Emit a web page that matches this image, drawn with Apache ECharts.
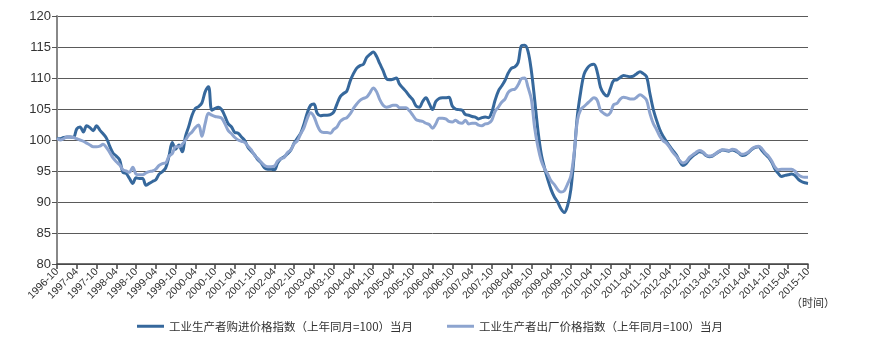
<!DOCTYPE html>
<html>
<head>
<meta charset="utf-8">
<script src="https://cdn.jsdelivr.net/npm/echarts@6/dist/echarts.min.js"></script>
<style>
  html, body { margin: 0; padding: 0; background: #fff; }
  #chart { width: 883px; height: 343px; }
</style>
</head>
<body>
<div id="chart"></div>
<script>
// Monthly price indices, 1996-10 .. 2015-10 (previous year same month = 100)
const startYear = 1996, startMonth = 10, monthCount = 229;
const months = [];
for (let k = 0; k < monthCount; k++) {
  const m = (startMonth - 1 + k) % 12 + 1;
  const y = startYear + Math.floor((startMonth - 1 + k) / 12);
  months.push(y + '-' + (m < 10 ? '0' + m : '' + m));
}

const seriesNames = [
  '工业生产者购进价格指数（上年同月=100）当月',
  '工业生产者出厂价格指数（上年同月=100）当月'
];

// Purchase price index
const purchaseIndex = [
  100.3,100.2,100.4,100.5,100.5,100.4,101.8,102.1,101.3,102.3,102.0,101.5,
  102.3,101.6,101.0,100.3,99.0,97.9,97.4,96.8,94.8,94.6,93.8,93.0,
  93.9,93.8,93.8,92.7,93.0,93.3,93.6,94.5,94.9,95.5,97.4,99.6,
  98.5,99.2,98.1,100.6,102.2,104.0,105.1,105.4,106.0,107.8,108.6,104.8,
  105.1,105.3,104.9,103.8,102.6,102.1,101.2,101.1,100.5,99.9,98.8,98.2,
  97.6,96.8,96.3,95.5,95.3,95.3,95.2,96.3,97.0,97.3,97.8,98.4,
  99.5,100.3,101.1,102.6,104.4,105.6,105.8,104.3,103.9,104.0,104.0,104.1,
  104.5,105.8,107.0,107.5,107.9,109.5,110.7,111.6,112.0,112.2,113.3,113.8,
  114.2,113.5,112.3,111.2,109.9,109.7,109.8,110.0,109.0,108.4,107.8,107.1,
  106.5,105.5,105.3,106.2,106.8,105.9,104.9,106.2,106.7,106.8,106.8,106.9,
  105.5,105.0,104.9,104.8,104.1,104.0,103.8,103.7,103.4,103.6,103.7,103.6,
  104.5,106.4,107.9,108.7,109.6,110.8,111.6,111.8,112.5,115.2,115.3,114.3,
  111.2,106.6,101.6,97.8,95.5,93.6,92.0,90.8,90.0,88.9,88.3,89.4,
  92.0,97.5,104.0,107.8,110.6,111.6,112.1,112.2,111.0,108.5,107.5,107.1,
  108.3,109.6,109.7,110.1,110.4,110.3,110.2,110.3,110.7,111.0,110.7,110.2,
  107.5,105.0,103.2,101.7,100.6,99.8,99.0,98.3,97.6,96.6,95.9,96.2,
  96.9,97.4,97.8,98.1,98.0,97.5,97.3,97.4,97.8,98.1,98.4,98.3,
  98.2,98.4,98.2,97.9,97.5,97.6,98.0,98.5,98.8,98.9,98.3,97.7,
  97.2,96.4,95.3,94.6,94.1,94.3,94.4,94.5,94.3,93.7,93.3,93.1,
  93.0
];

// Producer (ex-factory) price index
const producerIndex = [
  100.3,100.0,100.2,100.5,100.5,100.4,100.2,100.0,99.8,99.5,99.2,98.9,
  98.9,99.0,99.3,98.8,98.0,97.1,96.5,96.0,95.2,95.0,94.8,95.6,
  94.5,94.4,94.4,94.7,94.9,95.0,95.3,95.9,96.2,96.3,97.4,97.8,
  98.9,98.9,99.3,100.0,100.8,101.3,102.0,102.4,100.6,102.7,104.3,104.0,
  103.8,103.7,103.5,102.6,101.5,101.0,100.4,100.0,99.8,99.6,99.0,98.4,
  97.5,97.0,96.4,95.9,95.7,95.7,95.8,96.6,97.0,97.2,98.0,98.4,
  99.4,99.9,101.0,102.0,103.5,104.4,103.8,102.4,101.4,101.2,101.2,101.1,
  101.7,102.1,103.0,103.4,103.6,104.2,105.1,105.8,106.4,106.7,106.9,107.6,
  108.4,107.8,106.5,105.6,105.3,105.4,105.6,105.6,105.2,105.2,105.2,104.7,
  104.0,103.3,103.1,103.0,102.7,102.5,101.9,102.6,103.5,103.5,103.4,103.0,
  102.9,103.2,102.8,102.7,103.2,102.6,102.7,102.7,102.4,102.3,102.6,102.7,
  103.2,104.6,105.3,106.1,106.6,107.7,108.1,108.2,108.9,109.9,110.0,108.5,
  106.6,102.0,98.9,96.7,95.4,94.5,93.4,92.8,92.0,91.6,91.8,92.9,
  94.2,97.9,103.2,104.9,105.4,105.9,106.4,106.8,106.4,104.8,104.3,104.0,
  104.4,105.7,105.9,106.6,106.9,106.8,106.6,106.6,106.9,107.3,107.0,106.4,
  104.3,102.7,101.7,100.6,99.9,99.5,98.8,98.0,97.4,96.7,96.3,96.5,
  97.2,97.6,98.0,98.3,98.1,97.6,97.4,97.5,97.8,98.2,98.4,98.4,
  98.3,98.5,98.4,98.0,97.7,97.8,98.1,98.6,98.9,99.0,98.6,97.9,
  97.4,96.6,95.6,95.2,95.3,95.3,95.3,95.3,95.0,94.4,94.1,94.0,
  94.0
];

// Y axis range
const yMin = 80, yMax = 120, yStep = 5;

const chart = echarts.init(document.getElementById('chart'), null, { renderer: 'canvas' });

const latin = '"Liberation Sans", Arial, sans-serif';
const cjk = '"Noto Sans CJK SC", "Liberation Sans", sans-serif';

chart.setOption({
  animation: false,
  backgroundColor: '#ffffff',
  grid: { left: 57, right: 75, top: 16, bottom: 79, containLabel: false },
  legend: {
    bottom: 6,
    left: 132,
    itemWidth: 27,
    itemHeight: 3,
    itemGap: 34,
    icon: 'rect',
    textStyle: { fontFamily: cjk, fontSize: 11.5, color: '#333' },
    data: seriesNames
  },
  xAxis: {
    type: 'category',
    boundaryGap: false,
    data: months,
    axisLine: { show: true, lineStyle: { color: '#444', width: 1.5 } },
    axisTick: { show: true, interval: 5, length: 5, lineStyle: { color: '#444', width: 1.5 } },
    axisLabel: {
      interval: 5,
      rotate: 45,
      fontFamily: latin,
      fontSize: 10.5,
      color: '#333',
      margin: 6
    },
    splitLine: { show: false }
  },
  yAxis: {
    type: 'value',
    min: yMin,
    max: yMax,
    interval: yStep,
    axisLine: { show: true, lineStyle: { color: '#888', width: 2 } },
    axisTick: { show: true, length: 5, lineStyle: { color: '#555', width: 1 } },
    axisLabel: { fontFamily: latin, fontSize: 13, color: '#333', margin: 6 },
    splitLine: { show: true, lineStyle: { color: '#5a5a5a', width: 1 } }
  },
  graphic: [
    {
      type: 'text',
      left: 791,
      top: 297,
      style: { text: '（时间）', font: '11px ' + cjk, fill: '#333' }
    }
  ],
  series: [
    {
      name: seriesNames[0],
      type: 'line',
      data: purchaseIndex,
      showSymbol: false,
      smooth: 0.35,
      lineStyle: { color: '#36689c', width: 3 },
      itemStyle: { color: '#36689c' },
      z: 2
    },
    {
      name: seriesNames[1],
      type: 'line',
      data: producerIndex,
      showSymbol: false,
      smooth: 0.35,
      lineStyle: { color: '#8da4cf', width: 3 },
      itemStyle: { color: '#8da4cf' },
      z: 3
    }
  ]
});
</script>
</body>
</html>
